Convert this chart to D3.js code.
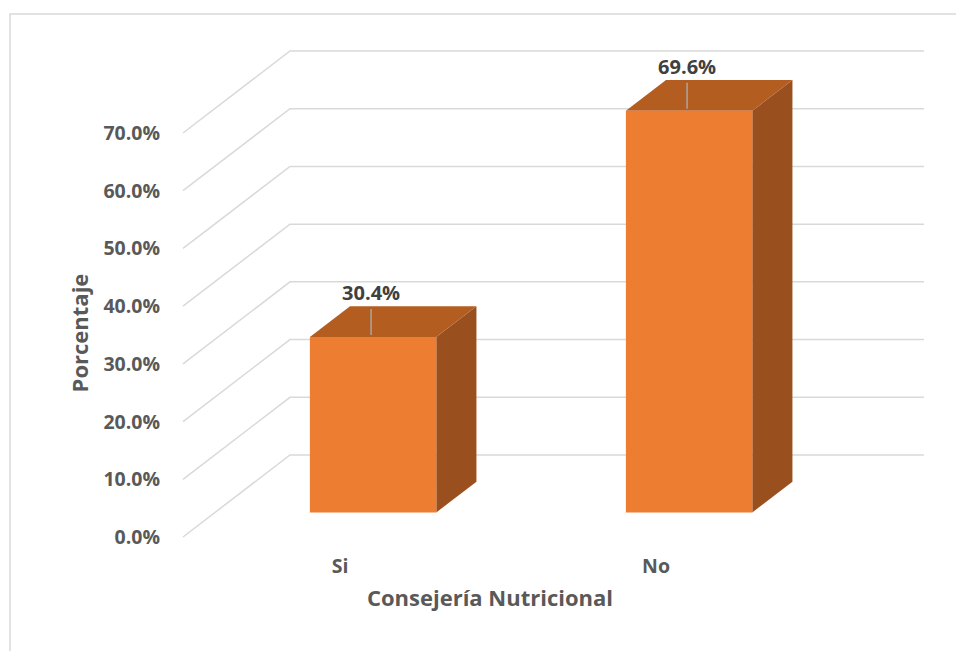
<!DOCTYPE html>
<html>
<head>
<meta charset="utf-8">
<script src="https://cdn.jsdelivr.net/npm/d3@7"></script>
<style>
  html, body { margin: 0; padding: 0; background: #fff; }
  svg { display: block; font-family: "Open Sans", "Noto Sans", sans-serif; }
</style>
</head>
<body>
<svg id="chart" width="956" height="651"></svg>
<script>
// Data
const categories = ["Si", "No"];
const values = [0.304, 0.696];
const tickValues = [0, 0.1, 0.2, 0.3, 0.4, 0.5, 0.6, 0.7];
const xTitle = "Consejería Nutricional";
const yTitle = "Porcentaje";

const svg = d3.select("#chart");

// 3D frame: front floor edge, depth offset for the back wall
const depthDX = 107, depthDY = -82;
const x = d3.scaleBand().domain(categories).range([183, 815]);
const y = d3.scaleLinear().domain([0, 0.7]).range([537, 133]);
const proj = (px, v, z) => [px + depthDX * z, y(v) + depthDY * z];

const barFrac = 0.4;
const zFront = 0.30, zBack = 0.675;

// Chart area border
svg.append("path")
  .attr("d", "M10,651 V14 H956")
  .attr("fill", "none")
  .attr("stroke", "#d9d9d9")
  .attr("stroke-width", 1.5);

// Gridlines: left-wall diagonal plus back-wall horizontal
const grid = svg.append("g");
tickValues.forEach(t => {
  const a = proj(x.range()[0], t, 0);
  const b = proj(x.range()[0], t, 1);
  const c = [924, b[1]];
  grid.append("path")
    .attr("d", d3.line()([a, b, c]))
    .attr("fill", "none")
    .attr("stroke", "#d9d9d9")
    .attr("stroke-width", 1.5);
});

// Y tick labels
const fmt = d3.format(".1%");
svg.append("g").selectAll("text")
  .data(tickValues)
  .join("text")
  .attr("x", 160)
  .attr("y", d => y(d) + 7)
  .attr("text-anchor", "end")
  .attr("font-size", 19.5)
  .attr("font-weight", 700)
  .attr("fill", "#595959")
  .text(d => fmt(d));

// Bars
const bars = svg.append("g");
categories.forEach((cat, i) => {
  const v = values[i];
  const bw = x.bandwidth() * barFrac;
  const x0 = x(cat) + (x.bandwidth() - bw) / 2;
  const x1 = x0 + bw;
  const fTL = proj(x0, v, zFront), fTR = proj(x1, v, zFront);
  const fBL = proj(x0, 0, zFront), fBR = proj(x1, 0, zFront);
  const bTL = proj(x0, v, zBack), bTR = proj(x1, v, zBack);
  const bBR = proj(x1, 0, zBack);
  const poly = pts => "M" + pts.map(p => p.join(",")).join("L") + "Z";

  // right side
  bars.append("path").attr("d", poly([fTR, bTR, bBR, fBR])).attr("fill", "#9a4f1e");
  // top
  bars.append("path").attr("d", poly([fTL, bTL, bTR, fTR])).attr("fill", "#b45d21");
  // front
  bars.append("path").attr("d", poly([fTL, fTR, fBR, fBL])).attr("fill", "#ed7d31");

  // leader line and value label, centred on the front face
  const cx = (fTL[0] + fTR[0]) / 2 - 2;
  bars.append("line")
    .attr("x1", cx).attr("x2", cx)
    .attr("y1", fTL[1] - 2).attr("y2", fTL[1] - 28)
    .attr("stroke", "#a6a6a6").attr("stroke-width", 1.5);
  bars.append("text")
    .attr("x", cx)
    .attr("y", fTL[1] - 37)
    .attr("text-anchor", "middle")
    .attr("font-size", 20)
    .attr("font-weight", 700)
    .attr("fill", "#404040")
    .text(fmt(v));
});

// Category labels
svg.append("g").selectAll("text")
  .data(categories)
  .join("text")
  .attr("x", d => x(d) + x.bandwidth() / 2 - 1)
  .attr("y", 573)
  .attr("text-anchor", "middle")
  .attr("font-size", 19.5)
  .attr("font-weight", 700)
  .attr("fill", "#595959")
  .text(d => d);

// Axis titles
svg.append("text")
  .attr("x", 490)
  .attr("y", 606)
  .attr("text-anchor", "middle")
  .attr("font-size", 22)
  .attr("font-weight", 700)
  .attr("fill", "#595959")
  .text(xTitle);

svg.append("text")
  .attr("transform", "translate(88,333) rotate(-90)")
  .attr("text-anchor", "middle")
  .attr("font-size", 22)
  .attr("font-weight", 700)
  .attr("fill", "#595959")
  .text(yTitle);
</script>
</body>
</html>
